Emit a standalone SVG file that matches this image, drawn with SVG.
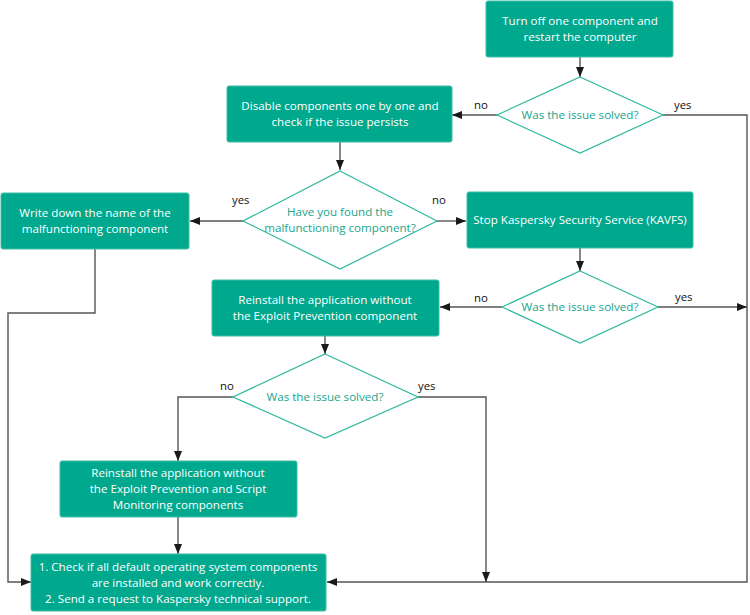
<svg xmlns="http://www.w3.org/2000/svg" width="750" height="615" viewBox="0 0 750 615">
<defs>
<marker id="arr" markerWidth="10" markerHeight="8" refX="10" refY="4" orient="auto" markerUnits="userSpaceOnUse">
<path d="M0,0 L10,4 L0,8 z" fill="#1a1a1a"/>
</marker>
</defs>
<style>
.box{fill:#00a88e;stroke:#3cbfa6;stroke-width:1}
.dia{fill:#ffffff;stroke:#2fb89f;stroke-width:1.2}
.bt{font-family:"Open Sans","Noto Sans",sans-serif;font-size:11.6px;fill:#ffffff;text-anchor:middle}
.dt{font-family:"Open Sans","Noto Sans",sans-serif;font-size:11.6px;fill:#19a58e;text-anchor:middle}
.lb{font-family:"Open Sans","Noto Sans",sans-serif;font-size:11.4px;fill:#111111}
.c{fill:none;stroke:#555555;stroke-width:1.4}
.ca{fill:none;stroke:#555555;stroke-width:1.4;marker-end:url(#arr)}
</style>
<rect width="750" height="615" fill="#ffffff"/>
<g id="connectors">
<path class="ca" d="M580,57 V77"/>
<path class="ca" d="M497,115 H452"/>
<path class="ca" d="M663,115 H747 V582 H327"/>
<path class="ca" d="M340,142 V170"/>
<path class="ca" d="M243,221 H190"/>
<path class="ca" d="M437,221 H466"/>
<path class="ca" d="M580,248 V271"/>
<path class="ca" d="M502,307 H440"/>
<path class="ca" d="M658,307 H747"/>
<path class="ca" d="M325,336 V354"/>
<path class="ca" d="M233,397 H178 V461"/>
<path class="ca" d="M418,397 H486 V582"/>
<path class="ca" d="M95,249 V313 H8 V582 H31"/>
<path class="ca" d="M178,517 V554"/>
<text class="lb" x="474" y="109">no</text>
<text class="lb" x="674" y="109">yes</text>
<text class="lb" x="232" y="204">yes</text>
<text class="lb" x="432" y="204">no</text>
<text class="lb" x="474" y="302">no</text>
<text class="lb" x="675" y="301">yes</text>
<text class="lb" x="220" y="390">no</text>
<text class="lb" x="418" y="390">yes</text>
</g>
<g id="n1">
<rect class="box" x="486" y="1" width="187" height="56" rx="2"/>
<text class="bt" x="580" y="25">Turn off one component and</text>
<text class="bt" x="580" y="41">restart the computer</text>
</g>
<g id="d1">
<polygon class="dia" points="580,77 663,115 580,153 497,115"/>
<text class="dt" x="580" y="119">Was the issue solved?</text>
</g>
<g id="n2">
<rect class="box" x="227" y="86" width="225" height="56" rx="2"/>
<text class="bt" x="340" y="110">Disable components one by one and</text>
<text class="bt" x="340" y="126">check if the issue persists</text>
</g>
<g id="d2">
<polygon class="dia" points="340,171 437,221 340,269 243,221"/>
<text class="dt" x="340" y="216">Have you found the</text>
<text class="dt" x="340" y="232">malfunctioning component?</text>
</g>
<g id="n3">
<rect class="box" x="1" y="193" width="188" height="56" rx="2"/>
<text class="bt" x="95" y="217">Write down the name of the</text>
<text class="bt" x="95" y="233">malfunctioning component</text>
</g>
<g id="n4">
<rect class="box" x="467" y="192" width="226" height="56" rx="2"/>
<text class="bt" x="580" y="224">Stop Kaspersky Security Service (KAVFS)</text>
</g>
<g id="d3">
<polygon class="dia" points="580,271 658,307 580,343 502,307"/>
<text class="dt" x="580" y="311">Was the issue solved?</text>
</g>
<g id="n5">
<rect class="box" x="212" y="280" width="227" height="56" rx="2"/>
<text class="bt" x="325" y="304">Reinstall the application without</text>
<text class="bt" x="325" y="320">the Exploit Prevention component</text>
</g>
<g id="d4">
<polygon class="dia" points="325,354 418,397 325,438 233,397"/>
<text class="dt" x="325" y="401">Was the issue solved?</text>
</g>
<g id="n6">
<rect class="box" x="60" y="461" width="237" height="56" rx="2"/>
<text class="bt" x="178" y="477">Reinstall the application without</text>
<text class="bt" x="178" y="493">the Exploit Prevention and Script</text>
<text class="bt" x="178" y="509">Monitoring components</text>
</g>
<g id="n7">
<rect class="box" x="31" y="554" width="295" height="57" rx="2"/>
<text class="bt" x="178" y="571">1. Check if all default operating system components</text>
<text class="bt" x="178" y="587">are installed and work correctly.</text>
<text class="bt" x="178" y="603">2. Send a request to Kaspersky technical support.</text>
</g>
</svg>
